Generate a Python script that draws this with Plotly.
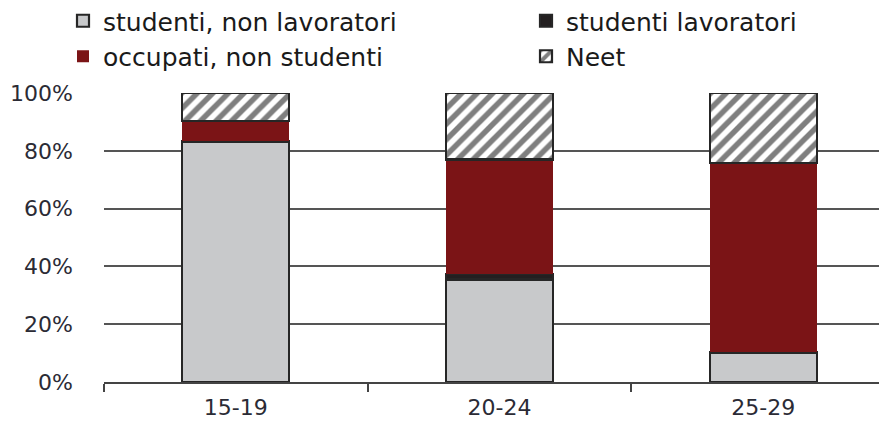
import plotly.graph_objects as go

categories = ["15-19", "20-24", "25-29"]
studenti_non_lavoratori = [83.0, 35.5, 10.0]
studenti_lavoratori = [0.3, 2.0, 0.3]
occupati_non_studenti = [7.0, 39.5, 65.5]
neet = [9.7, 23.0, 24.2]

series_names = ["studenti, non lavoratori", "studenti lavoratori",
                "occupati, non studenti", "Neet"]

outline = "#262626"
fig = go.Figure()
fig.add_trace(go.Bar(x=categories, y=studenti_non_lavoratori, name=series_names[0],
                     legend="legend",
                     marker=dict(color="#c8c9cb", line=dict(color=outline, width=2.2))))
fig.add_trace(go.Bar(x=categories, y=studenti_lavoratori, name=series_names[1],
                     legend="legend2",
                     marker=dict(color="#231f20", line=dict(color=outline, width=2.2))))
fig.add_trace(go.Bar(x=categories, y=occupati_non_studenti, name=series_names[2],
                     legend="legend",
                     marker=dict(color="#7b1416", line=dict(color="#7b1416", width=0))))
fig.add_trace(go.Bar(x=categories, y=neet, name=series_names[3],
                     legend="legend2",
                     marker=dict(color="white", line=dict(color=outline, width=2.2),
                                 pattern=dict(shape="/", fgcolor="#000000", bgcolor="white",
                                              size=11, solidity=0.5))))

# figure is drawn inside an 8px page margin: offsets below compensate for that
top, bottom, left = 85, 58, 96
plot_h = 432 - top - bottom
legend_y = 1 + (top + 10) / plot_h

legend_common = dict(orientation="h", xref="container", yref="paper",
                     y=legend_y, xanchor="left", yanchor="top",
                     font=dict(family="DejaVu Sans", size=25, color="#1a1a1a"),
                     itemwidth=30, traceorder="normal", tracegroupgap=0,
                     entrywidth=450, entrywidthmode="pixels",
                     bgcolor="rgba(0,0,0,0)")

fig.update_layout(
    barmode="stack",
    bargap=0.594,
    width=887, height=432,
    paper_bgcolor="white", plot_bgcolor="white",
    margin=dict(l=left, r=0, t=top, b=bottom, autoexpand=False),
    font=dict(family="DejaVu Sans", size=22, color="#222222"),
    legend=dict(x=55/887, **legend_common),
    legend2=dict(x=518/887, **legend_common),
    showlegend=True,
)
fig.update_xaxes(range=[-0.5, 2.5], showline=True, linecolor="#444444", linewidth=2,
                 ticks="outside", tickson="boundaries", ticklen=8, tickwidth=2,
                 tickcolor="#444444", ticklabelstandoff=5, showgrid=False,
                 tickfont=dict(size=22, color="#2b2b35"))
fig.update_yaxes(range=[0, 100], dtick=20, ticksuffix="%", showgrid=True,
                 gridcolor="#555555", gridwidth=1.5, showline=False, zeroline=False,
                 ticklabelstandoff=30, tickfont=dict(size=22, color="#2b2b35"))

fig.write_html("out.html")
